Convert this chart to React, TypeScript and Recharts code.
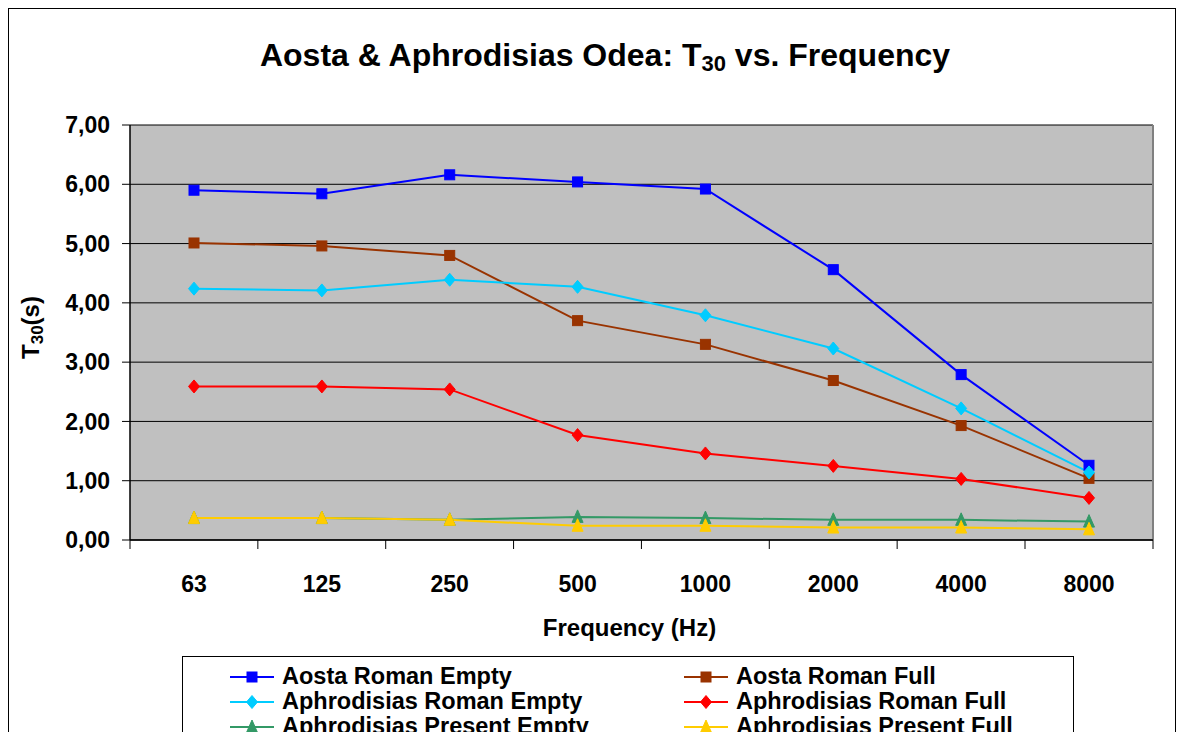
import { LineChart, Line, XAxis, YAxis, CartesianGrid, Label } from 'recharts';

const frequencies = ['63', '125', '250', '500', '1000', '2000', '4000', '8000'];

const aostaRomanEmpty = [5.9, 5.84, 6.16, 6.04, 5.92, 4.56, 2.79, 1.26];
const aostaRomanFull = [5.01, 4.96, 4.8, 3.7, 3.3, 2.69, 1.93, 1.04];
const aphroRomanEmpty = [4.24, 4.21, 4.39, 4.27, 3.79, 3.23, 2.22, 1.14];
const aphroRomanFull = [2.59, 2.59, 2.54, 1.77, 1.46, 1.25, 1.03, 0.71];
const aphroPresentEmpty = [0.37, 0.37, 0.34, 0.39, 0.37, 0.34, 0.34, 0.31];
const aphroPresentFull = [0.37, 0.37, 0.34, 0.24, 0.24, 0.21, 0.21, 0.18];

const yTicks = [0, 1, 2, 3, 4, 5, 6, 7];

const FONT = '"Liberation Sans", Arial, sans-serif';
const HALF_BAND = 64; // half of a category slot; also used as axis padding

type Shape = 'square' | 'diamond' | 'triangle';

const series: { key: string; name: string; color: string; shape: Shape; values: number[] }[] = [
  { key: 'aostaEmpty', name: 'Aosta Roman Empty', color: '#0000FF', shape: 'square', values: aostaRomanEmpty },
  { key: 'aostaFull', name: 'Aosta Roman Full', color: '#993300', shape: 'square', values: aostaRomanFull },
  { key: 'aphroEmpty', name: 'Aphrodisias Roman Empty', color: '#00CCFF', shape: 'diamond', values: aphroRomanEmpty },
  { key: 'aphroFull', name: 'Aphrodisias Roman Full', color: '#FF0000', shape: 'diamond', values: aphroRomanFull },
  { key: 'presentEmpty', name: 'Aphrodisias Present Empty', color: '#339966', shape: 'triangle', values: aphroPresentEmpty },
  { key: 'presentFull', name: 'Aphrodisias Present Full', color: '#FFCC00', shape: 'triangle', values: aphroPresentFull },
];

const data = frequencies.map((freq, i) => {
  const row: Record<string, string | number> = { freq };
  series.forEach(s => { row[s.key] = s.values[i]; });
  return row;
});

function marker(shape: Shape, color: string, cx: number, cy: number, key?: string | number) {
  if (shape === 'square') {
    return <rect key={key} x={cx - 5} y={cy - 5} width={10} height={10} fill={color} stroke={color} strokeWidth={1} />;
  }
  if (shape === 'diamond') {
    return <polygon key={key} points={`${cx},${cy - 6.5} ${cx + 5.5},${cy} ${cx},${cy + 6.5} ${cx - 5.5},${cy}`} fill={color} stroke={color} />;
  }
  return <polygon key={key} points={`${cx},${cy - 7} ${cx + 5.5},${cy + 5.5} ${cx - 5.5},${cy + 5.5}`} fill={color} stroke={color} />;
}

const makeDot = (shape: Shape, color: string) => (props: any) => {
  const { cx, cy, index } = props;
  if (cx == null || cy == null) return <g key={index} />;
  return marker(shape, color, cx, cy, index);
};

const fmt = (v: number) => v.toFixed(2).replace('.', ',');

// category label in the middle of its slot, tick marks on the slot edges
const FreqTick = (props: any) => {
  const { x, y, payload, index, visibleTicksCount } = props;
  const last = index === visibleTicksCount - 1;
  return (
    <g>
      <line x1={x - HALF_BAND} y1={y} x2={x - HALF_BAND} y2={y + 9} stroke="#000" />
      {last && <line x1={x + HALF_BAND} y1={y} x2={x + HALF_BAND} y2={y + 9} stroke="#000" />}
      <text x={x} y={y + 44} dy="0.35em" textAnchor="middle" fontFamily={FONT} fontWeight="bold" fontSize={23} fill="#000">
        {payload.value}
      </text>
    </g>
  );
};

const YLabel = ({ viewBox }: any) => {
  const cy = viewBox.y + viewBox.height / 2 - 5;
  const x = 30;
  return (
    <text x={x} y={cy} transform={`rotate(-90, ${x}, ${cy})`} textAnchor="middle" fontFamily={FONT} fontWeight="bold" fontSize={24} fill="#000">
      T<tspan fontSize={17} dy={4}>30</tspan><tspan dy={-4}>(s)</tspan>
    </text>
  );
};

const LegendItem = ({ s }: { s: typeof series[number] }) => (
  <div style={{ display: 'flex', alignItems: 'center', height: 25 }}>
    <svg width={46} height={16} style={{ marginRight: 7, flexShrink: 0 }}>
      <line x1={1} y1={8} x2={45} y2={8} stroke={s.color} strokeWidth={2} />
      {marker(s.shape, s.color, 23, 8)}
    </svg>
    <span style={{ fontSize: 23.5, fontWeight: 'bold', whiteSpace: 'nowrap', lineHeight: '25px' }}>{s.name}</span>
  </div>
);

export default function App() {
  return (
    <div style={{ height: 732, marginBottom: -8, overflow: 'hidden' }}>
      <div style={{ position: 'relative', width: 1166, height: 800, border: '1px solid #000', fontFamily: FONT, color: '#000' }}>
        <div style={{ position: 'absolute', left: 0, top: 28, width: 1192, textAlign: 'center', fontSize: 32, fontWeight: 'bold' }}>
          Aosta &amp; Aphrodisias Odea: T<sub style={{ fontSize: 22, verticalAlign: -5 }}>30</sub> vs. Frequency
        </div>

        <LineChart width={1166} height={660} data={data} margin={{ top: 116, right: 22, left: 0, bottom: 30 }}>
          <CartesianGrid vertical={false} stroke="#000" strokeWidth={1} fill="#C0C0C0" fillOpacity={1} />
          {/* grey right-hand edge of the plot area */}
          <CartesianGrid
            horizontal={false}
            stroke="#808080"
            strokeWidth={2}
            verticalCoordinatesGenerator={({ offset }: any) => [offset.left + offset.width]}
          />
          <XAxis
            dataKey="freq"
            type="category"
            padding={{ left: HALF_BAND, right: HALF_BAND }}
            axisLine={{ stroke: '#000', strokeWidth: 1.5 }}
            tickLine={false}
            tickSize={0}
            tickMargin={0}
            height={99}
            interval={0}
            tick={<FreqTick />}
          >
            <Label
              content={({ viewBox }: any) => (
                <text x={viewBox.x + viewBox.width / 2 - 12} y={viewBox.y + 96} textAnchor="middle" fontFamily={FONT} fontWeight="bold" fontSize={24} fill="#000">
                  Frequency (Hz)
                </text>
              )}
            />
          </XAxis>
          <YAxis
            domain={[0, 7]}
            ticks={yTicks}
            width={121}
            tickFormatter={fmt}
            tickSize={8}
            tickMargin={12}
            axisLine={{ stroke: '#000', strokeWidth: 1.5 }}
            tickLine={{ stroke: '#000' }}
            tick={{ fill: '#000', fontSize: 23, fontWeight: 'bold', fontFamily: FONT }}
          >
            <Label content={<YLabel />} />
          </YAxis>
          {series.map(s => (
            <Line
              key={s.key}
              dataKey={s.key}
              name={s.name}
              stroke={s.color}
              strokeWidth={2}
              dot={makeDot(s.shape, s.color)}
              activeDot={false}
              isAnimationActive={false}
            />
          ))}
        </LineChart>

        <div style={{ position: 'absolute', left: 173, top: 647, width: 892, height: 120, border: '1px solid #000', boxSizing: 'border-box', paddingTop: 7 }}>
          <div style={{ display: 'grid', gridTemplateColumns: '454px 430px' }}>
            {series.map(s => (
              <div key={s.key} style={{ paddingLeft: 46 }}>
                <LegendItem s={s} />
              </div>
            ))}
          </div>
        </div>
      </div>
    </div>
  );
}
